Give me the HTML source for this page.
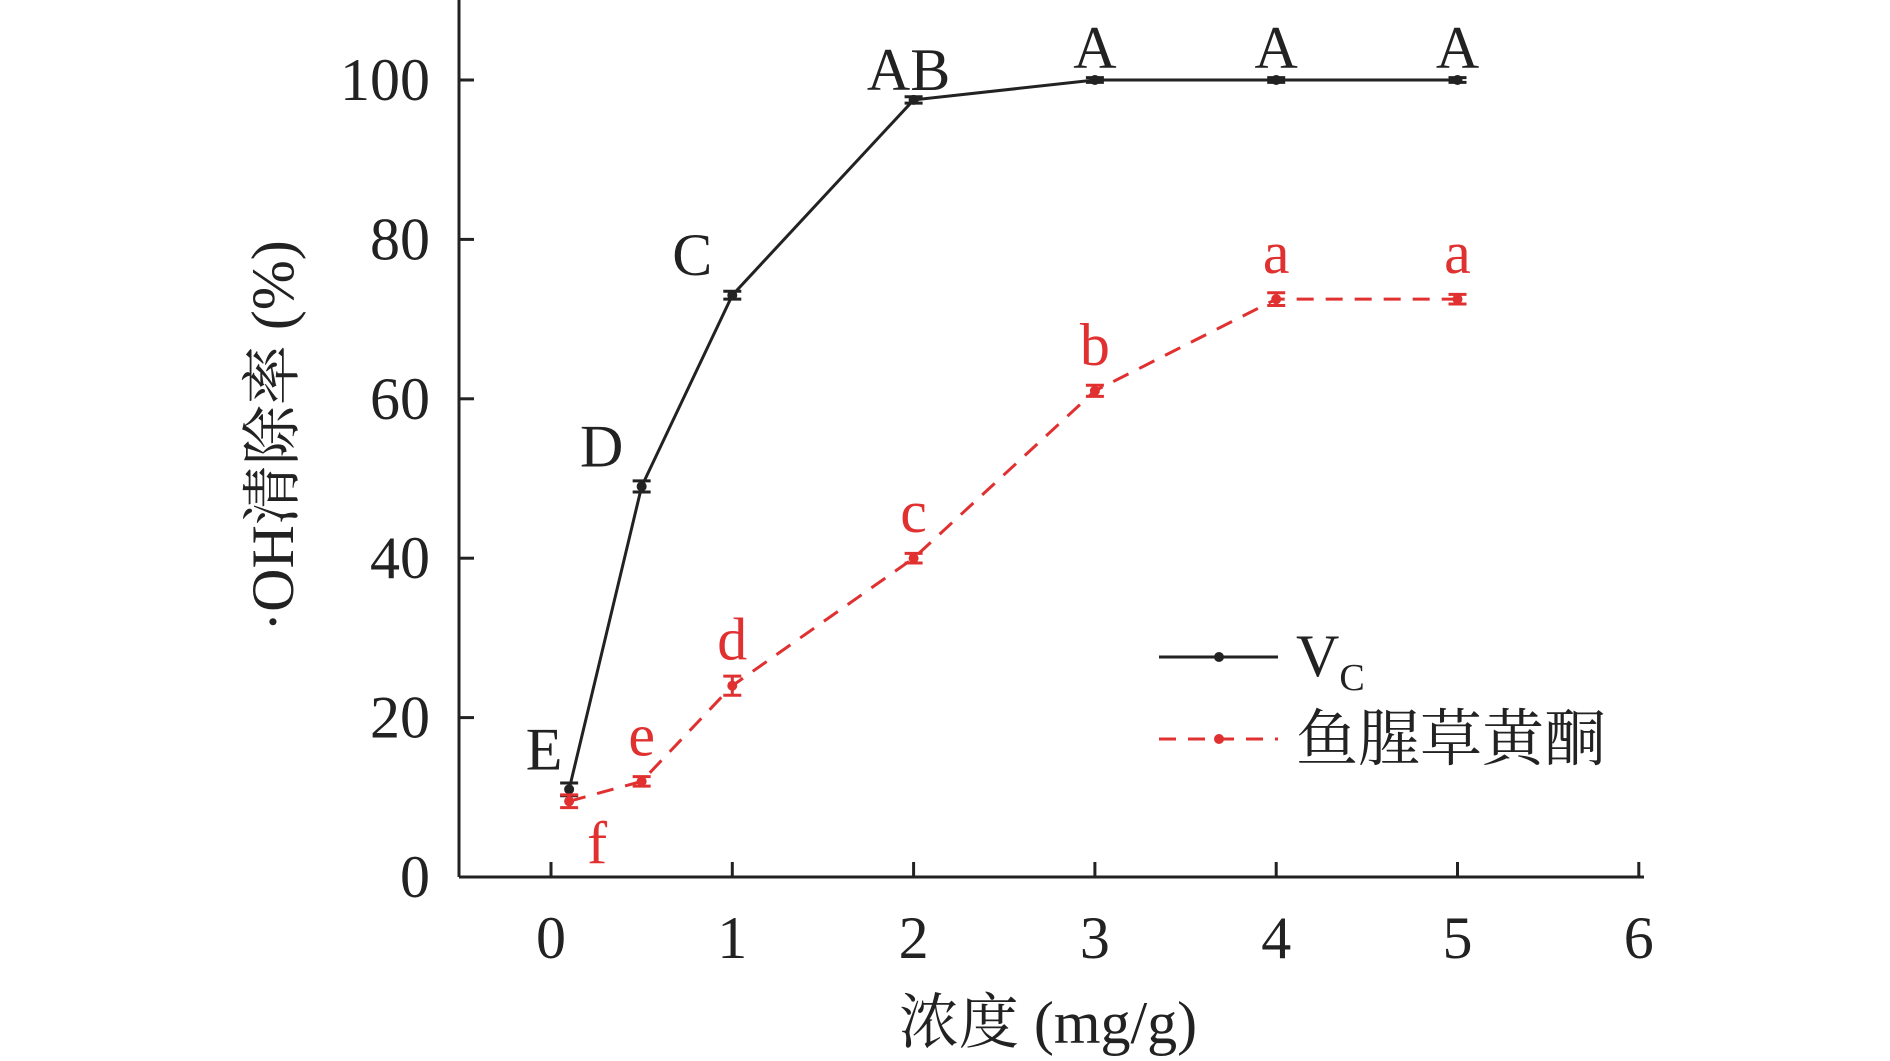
<!DOCTYPE html>
<html><head><meta charset="utf-8"><style>body{margin:0;background:#fff}svg{display:block}text{font-family:"Liberation Serif","Noto Serif CJK SC",serif}</style></head>
<body>
<svg id="c" width="1890" height="1061"></svg>
<script>
const xs=[0.1,0.5,1,2,3,4,5];
const vc=[11,49,73,97.5,100,100,100];
const vcErr=[0.8,0.7,0.5,0.4,0.3,0.3,0.3];
const vcLab=["E","D","C","AB","A","A","A"];
const hf=[9.5,12,24,40,61,72.5,72.5];
const hfErr=[0.8,0.6,1.2,0.6,0.7,0.8,0.6];
const hfLab=["f","e","d","c","b","a","a"];
const xTicks=[0,1,2,3,4,5,6];
const yTicks=[0,20,40,60,80,100];
const X=v=>551+v*181.3, Y=v=>877-v*7.97;
const s=document.getElementById('c'),NS="http://www.w3.org/2000/svg";
function el(t,a,txt){const e=document.createElementNS(NS,t);for(const k in a)e.setAttribute(k,a[k]);if(txt!=null)e.textContent=txt;s.appendChild(e);return e;}
let e;
e=el('line',{x1:459,y1:0,x2:459,y2:877,stroke:'#222','stroke-width':3});

e=el('line',{x1:459,y1:877,x2:1644,y2:877,stroke:'#222','stroke-width':3});

yTicks.forEach(v=>{el('line',{x1:459,y1:Y(v),x2:474,y2:Y(v),stroke:'#222','stroke-width':3});
e=el('text',{x:430,y:Y(v)+20,'font-size':60,'text-anchor':'end',fill:'#222'},v);
});
xTicks.forEach(v=>{el('line',{x1:X(v),y1:877,x2:X(v),y2:862,stroke:'#222','stroke-width':3});
e=el('text',{x:X(v),y:958,'font-size':60,'text-anchor':'middle',fill:'#222'},v);
});
e=el('text',{x:0,y:0,'font-size':60,'text-anchor':'middle',fill:'#222',transform:'translate(293,436) rotate(-90)'},'·OH清除率 (%)');

e=el('text',{x:1048,y:1043,'font-size':60,'text-anchor':'middle',fill:'#222'},'浓度 (mg/g)');

function series(vals,err,labs,col,dash,name){
 e=el('polyline',{points:xs.map((x,i)=>X(x)+','+Y(vals[i])).join(' '),fill:'none',stroke:col,'stroke-width':3,'stroke-dasharray':dash});
 
 xs.forEach((x,i)=>{const px=X(x),py=Y(vals[i]),d=err[i]*7.97;
  el('line',{x1:px,y1:py-d,x2:px,y2:py+d,stroke:col,'stroke-width':3});
  el('line',{x1:px-9,y1:py-d,x2:px+9,y2:py-d,stroke:col,'stroke-width':3});
  el('line',{x1:px-9,y1:py+d,x2:px+9,y2:py+d,stroke:col,'stroke-width':3});
  e=el('circle',{cx:px,cy:py,r:5,fill:col});
  
  let lx=px,ly=py-22;
  if(name==='vc'){if(i===0){lx=px-25;ly=py-20}else if(i<3){lx=px-40;ly=py-20}else if(i===3){lx=px-5;ly=py-10}else{ly=py-12}}
  if(name==='hf'){if(i===0){lx=px+28;ly=py+62}else ly=py-26}
  e=el('text',{x:lx,y:ly,'font-size':60,'text-anchor':'middle',fill:col},labs[i]);
  });
}
series(vc,vcErr,vcLab,'#222','none','vc');
series(hf,hfErr,hfLab,'#e03030','17,12','hf');
e=el('line',{x1:1159,y1:657,x2:1278,y2:657,stroke:'#222','stroke-width':3});
el('circle',{cx:1219,cy:657,r:5,fill:'#222'});
e=el('text',{x:1296,y:676,'font-size':60,fill:'#222'});e.innerHTML='V<tspan font-size="38" dy="14">C</tspan>';

e=el('line',{x1:1159,y1:739,x2:1278,y2:739,stroke:'#e03030','stroke-width':3,'stroke-dasharray':'17,12'});
el('circle',{cx:1219,cy:739,r:5,fill:'#e03030'});
e=el('text',{x:1296,y:760,'font-size':62,fill:'#222'},'鱼腥草黄酮');

</script>
</body></html>
